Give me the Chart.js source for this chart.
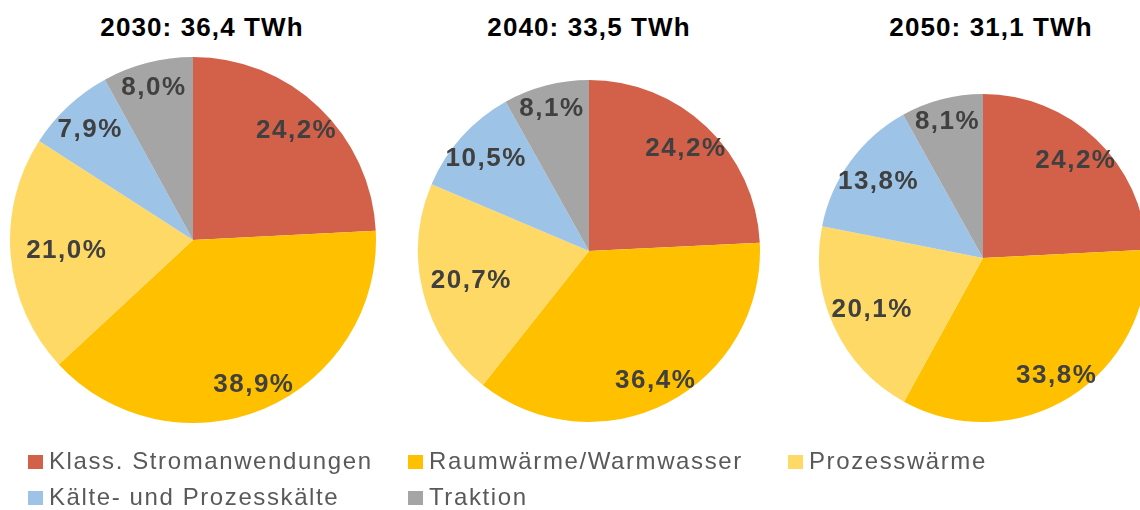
<!DOCTYPE html>
<html>
<head>
<meta charset="utf-8">
<script src="https://cdn.jsdelivr.net/npm/chart.js@4"></script>
<style>
  html, body { margin: 0; padding: 0; background: #fff; }
  body { width: 1140px; height: 510px; position: relative; overflow: hidden; }
  .pie { position: absolute; }
  .title {
    position: absolute; top: 12px; transform: translateX(-50%);
    font: bold 26px "Liberation Sans", Arial, sans-serif; letter-spacing: 1.1px;
    color: #000; white-space: nowrap;
  }
  #legend { position: absolute; left: 0; top: 440px; }
</style>
</head>
<body>

<script>
// Daten
const categories = ["Klass. Stromanwendungen", "Raumwärme/Warmwasser", "Prozesswärme", "Kälte- und Prozesskälte", "Traktion"];
const years  = ["2030", "2040", "2050"];
const totals = ["36,4", "33,5", "31,1"];
const share2030 = [24.2, 38.9, 21.0, 7.9, 8.0];
const share2040 = [24.2, 36.4, 20.7, 10.5, 8.1];
const share2050 = [24.2, 33.8, 20.1, 13.8, 8.1];

const colors = ["#D3614A", "#FFC000", "#FFD966", "#9DC3E6", "#A5A5A5"];

// Lage der drei Kreise (Mitte + Radius) und der Titel
const layout = [
  { cx: 193,   cy: 240, r: 183, titleX: 202 },
  { cx: 588.5, cy: 251, r: 171, titleX: 589 },
  { cx: 983,   cy: 258, r: 164, titleX: 991 }
];
const pad = 4;

// Prozentlabels im Segment, Excel-ähnlich nahe am Rand
const pctLabels = {
  id: "pctLabels",
  afterDatasetsDraw(chart) {
    const ctx = chart.ctx;
    const meta = chart.getDatasetMeta(0);
    const values = chart.data.datasets[0].data;
    ctx.save();
    ctx.font = "bold 26px 'Liberation Sans', Arial, sans-serif";
    ctx.letterSpacing = "1.5px";
    ctx.fillStyle = "#404040";
    ctx.textAlign = "center";
    ctx.textBaseline = "middle";
    meta.data.forEach((arc, i) => {
      const p = arc.getProps(["x", "y", "startAngle", "endAngle", "outerRadius"], true);
      const mid = (p.startAngle + p.endAngle) / 2;
      const k = 0.86 - 0.17 * Math.pow(Math.cos(mid), 4);
      const x = p.x + Math.cos(mid) * p.outerRadius * k;
      const y = p.y + Math.sin(mid) * p.outerRadius * k;
      ctx.fillText(values[i].toFixed(1).replace(".", ",") + "%", x, y);
    });
    ctx.restore();
  }
};

function makePie(idx, values) {
  const L = layout[idx];
  const size = 2 * (L.r + pad);

  const wrap = document.createElement("div");
  wrap.className = "pie";
  wrap.style.left = (L.cx - L.r - pad) + "px";
  wrap.style.top = (L.cy - L.r - pad) + "px";
  wrap.style.width = size + "px";
  wrap.style.height = size + "px";
  const canvas = document.createElement("canvas");
  wrap.appendChild(canvas);
  document.body.appendChild(wrap);

  const title = document.createElement("div");
  title.className = "title";
  title.style.left = L.titleX + "px";
  title.textContent = years[idx] + ": " + totals[idx] + " TWh";
  document.body.appendChild(title);

  new Chart(canvas, {
    type: "pie",
    data: {
      labels: categories,
      datasets: [{ data: values, backgroundColor: colors, borderWidth: 0, hoverOffset: 0 }]
    },
    options: {
      responsive: true,
      maintainAspectRatio: false,
      animation: false,
      layout: { padding: pad },
      plugins: { legend: { display: false }, tooltip: { enabled: false }, title: { display: false } }
    },
    plugins: [pctLabels]
  });
}

makePie(0, share2030);
makePie(1, share2040);
makePie(2, share2050);

// gemeinsame Legende unten (3 gleich breite Spalten)
function drawLegend() {
  const canvas = document.createElement("canvas");
  canvas.id = "legend";
  canvas.width = 1140;
  canvas.height = 70;
  document.body.appendChild(canvas);
  const ctx = canvas.getContext("2d");
  ctx.font = "24px 'Liberation Sans', Arial, sans-serif";
  ctx.letterSpacing = "1.6px";
  const cols = 3, box = 15, gap = 6;
  const colW = 380;
  const baselines = [29, 65];

  categories.forEach((cat, i) => {
    const x = 28 + (i % cols) * colW;
    const y = baselines[Math.floor(i / cols)];
    ctx.fillStyle = colors[i];
    ctx.fillRect(x, y - 14, box, 14);
    ctx.fillStyle = "#595959";
    ctx.textBaseline = "alphabetic";
    ctx.fillText(cat, x + box + gap, y);
  });
}
drawLegend();
</script>
</body>
</html>
